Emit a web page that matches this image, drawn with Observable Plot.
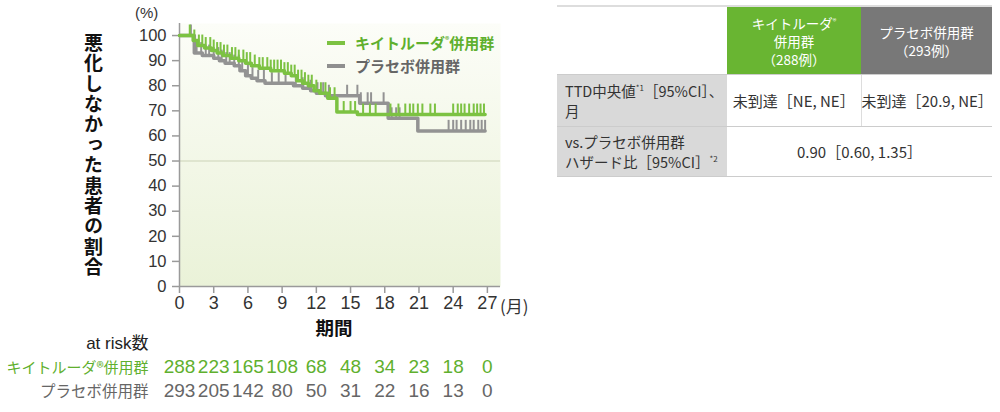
<!DOCTYPE html>
<html><head><meta charset="utf-8">
<script src="https://cdn.jsdelivr.net/npm/d3@7"></script>
<script src="https://cdn.jsdelivr.net/npm/@observablehq/plot@0.6"></script>
<style>
body{margin:0;width:1000px;height:412px;position:relative;background:#fff;font-family:"Liberation Sans","Noto Sans CJK JP",sans-serif;overflow:hidden;}
#chart{position:absolute;left:0;top:0;}
.abs{position:absolute;white-space:nowrap;}
#ytitle{left:84px;top:33px;writing-mode:vertical-rl;font-family:"Noto Sans CJK JP",sans-serif;font-weight:bold;font-size:19px;letter-spacing:1.4px;color:#111;line-height:1;}
#pct{left:135px;top:4px;font-size:15px;color:#333;}
#mon{left:500px;top:293px;font-size:17px;color:#333;font-family:"Noto Sans CJK JP",sans-serif;}
.leg{font-family:"Noto Sans CJK JP",sans-serif;font-size:15px;line-height:1;}
.sw{position:absolute;width:18px;height:4px;}
sup{font-size:0.55em;vertical-align:0.7em;line-height:0;}
#tbl{position:absolute;left:557px;top:5px;width:435px;border-collapse:collapse;font-family:"Noto Sans CJK JP",sans-serif;font-size:15px;color:#333;table-layout:fixed;}
#tbl td{padding:0;text-align:center;vertical-align:middle;}
#tbl tr.h td{height:67px;border-top:2px solid #ddd;border-bottom:1px solid #ccc;line-height:18px;font-size:13.5px;}
#tbl tr.r2 td{height:51px;border-bottom:1px solid #ccc;}
#tbl tr.r3 td{height:49px;border-bottom:1px solid #ccc;}
#tbl td.lab{background:#d9d9d9;text-align:left;padding-left:8px;line-height:20px;font-size:14.5px;}
#tbl td.g{background:#69b532;color:#fff;}
#tbl td.k{background:#787878;color:#fff;}
#tbl td.sep{border-right:1px solid #ddd;}
</style></head><body>
<div id="chart"></div>
<div id="ytitle" class="abs">悪化しなかった患者の割合</div>
<div id="pct" class="abs">(%)</div>
<div id="mon" class="abs">(月)</div>
<div class="sw" style="left:327px;top:41px;background:#7cc242"></div>
<div class="abs leg" style="left:355px;top:35px;color:#5fb02e;font-weight:bold">キイトルーダ<sup>®</sup>併用群</div>
<div class="sw" style="left:327px;top:64px;background:#8f8f8f"></div>
<div class="abs leg" style="left:355px;top:58px;color:#666;font-weight:bold">プラセボ併用群</div>
<table id="tbl">
<colgroup><col style="width:170px"><col style="width:134px"><col style="width:131px"></colgroup>
<tr class="h"><td style="background:#fff"></td><td class="g">キイトルーダ<sup>®</sup><br>併用群<br>（288例）</td><td class="k">プラセボ併用群<br>（293例）</td></tr>
<tr class="r2"><td class="lab">TTD中央値<sup>*1</sup>［95%CI］、<br>月</td><td class="sep">未到達［NE, NE］</td><td>未到達［20.9, NE］</td></tr>
<tr class="r3"><td class="lab">vs.プラセボ併用群<br>ハザード比［95%CI］<sup>*2</sup></td><td colspan="2">0.90［0.60, 1.35］</td></tr>
</table>
<script>
// ---- data ----
const xTicks = [0, 3, 6, 9, 12, 15, 18, 21, 24, 27];
const yTicks = [0, 10, 20, 30, 40, 50, 60, 70, 80, 90, 100];

// Keytruda arm (step-after KM)
const ktTimes = [0, 1.2, 1.6, 2.2, 2.8, 3.3, 3.8, 4.5, 5.2, 5.8, 6.3, 7.0, 8.0, 9.2, 9.8, 10.3, 10.8, 11.3, 11.8, 12.3, 13.0, 13.8, 15.6, 26.8];
const ktSurv  = [100, 98, 96, 95, 94, 93, 92, 91, 90, 89, 88, 87, 86, 85, 84, 82, 81, 80, 78, 77, 75, 69.5, 68.5, 68.5];
const ktCensor = [0.9, 1.3, 1.7, 2.0, 2.3, 2.7, 3.0, 3.3, 3.6, 3.9, 4.2, 4.6, 4.9, 5.2, 5.6, 5.9, 6.2, 6.6, 7.0, 7.3, 7.7, 8.0, 8.3, 8.6, 8.9, 9.2, 9.5, 9.8, 10.1, 10.4, 10.7, 11.0, 11.3, 11.6, 12.0, 12.4, 12.8, 13.2, 13.6, 14.4, 15.0, 15.4, 16.1, 16.7, 17.2, 18.5, 19.2, 19.8, 20.2, 20.5, 20.9, 21.3, 22.0, 22.4, 24.0, 24.4, 24.7, 25.0, 25.4, 25.8, 26.1, 26.4, 26.7];

// Placebo arm
const pbTimes = [0, 1.3, 2.0, 3.0, 3.5, 4.0, 4.8, 5.3, 5.8, 6.3, 6.8, 7.5, 10.0, 10.8, 11.5, 12.0, 12.8, 15.8, 18.3, 20.9, 26.8];
const pbSurv  = [100, 93, 92, 91, 90, 89, 88, 86, 84, 83, 82, 81, 80, 79, 78, 77, 76, 73, 67, 62, 62];
const pbCensor = [1.0, 1.5, 1.9, 2.3, 2.6, 3.0, 3.4, 3.7, 4.1, 4.4, 4.8, 5.2, 5.5, 6.0, 6.4, 6.9, 7.4, 8.1, 8.7, 9.3, 10.2, 10.8, 11.5, 12.1, 12.6, 13.1, 14.7, 15.6, 15.9, 16.5, 16.8, 17.9, 18.6, 19.0, 19.3, 23.6, 24.0, 24.3, 24.7, 25.1, 25.5, 25.8, 26.2, 26.5, 26.8];

// at risk
const riskTimes = [0, 3, 6, 9, 12, 15, 18, 21, 24, 27];
const ktRisk = [288, 223, 165, 108, 68, 48, 34, 23, 18, 0];
const pbRisk = [293, 205, 142, 80, 50, 31, 22, 16, 13, 0];

// ---- build ----
const GREEN = "#7cc242", GRAY = "#939393";
const stepData = (ts, ss) => ts.map((t, i) => ({t, s: ss[i]}));
const survAt = (ts, ss, t) => { let v = ss[0]; for (let i = 0; i < ts.length; i++) if (ts[i] <= t) v = ss[i]; return v; };
const censorData = (cs, ts, ss) => cs.map(t => ({t, s: survAt(ts, ss, t)}));
const kt = stepData(ktTimes, ktSurv), pb = stepData(pbTimes, pbSurv);
const ktC = censorData(ktCensor, ktTimes, ktSurv), pbC = censorData(pbCensor, pbTimes, pbSurv);

const plot = Plot.plot({
  width: 520, height: 412,
  marginLeft: 179, marginRight: 20, marginTop: 23, marginBottom: 126,
  x: {domain: [0, 28.15]},
  y: {domain: [0, 104.8]},
  style: {fontFamily: '"Liberation Sans","Noto Sans CJK JP",sans-serif', color: "#333", background: "transparent", overflow: "visible"},
  marks: [
    Plot.frame({fill: "url(#bgGrad)", stroke: null}),
    Plot.ruleY([50], {stroke: "#dfe5cf", strokeWidth: 2}),
    Plot.axisY(yTicks, {tickSize: 7, tickPadding: 6, fontSize: 16.5, label: null, stroke: "#9a9a9a", strokeWidth: 1.5, fill: "#333"}),
    Plot.axisX(xTicks, {tickSize: 7, tickPadding: 3, fontSize: 18, label: null, stroke: "#9a9a9a", strokeWidth: 1.5, fill: "#333"}),
    Plot.ruleX([0], {stroke: "#9a9a9a", strokeWidth: 1.5}),
    Plot.ruleY([0], {stroke: "#9a9a9a", strokeWidth: 1.5}),
    Plot.line(pb, {x: "t", y: "s", curve: "step-after", stroke: GRAY, strokeWidth: 3.5}),
    Plot.ruleX(pbC, {x: "t", y1: "s", y2: d => d.s + 4.2, stroke: GRAY, strokeWidth: 2}),
    Plot.line(kt, {x: "t", y: "s", curve: "step-after", stroke: GREEN, strokeWidth: 3.5}),
    Plot.ruleX(ktC, {x: "t", y1: "s", y2: d => d.s + 4.2, stroke: GREEN, strokeWidth: 2}),
    Plot.text(["期間"], {text: d => d, frameAnchor: "bottom", dx: -6, dy: 48, fontSize: 18.5, fontWeight: "bold", fill: "#111", fontFamily: '"Noto Sans CJK JP",sans-serif'}),
    Plot.text(["at risk数"], {text: d => d, frameAnchor: "bottom-left", dx: -31, dy: 62, textAnchor: "end", fontSize: 17, fill: "#222"}),
    Plot.text(["キイトルーダ®併用群"], {text: d => d, frameAnchor: "bottom-left", dx: -31, dy: 86, textAnchor: "end", fontSize: 15, fill: "#5fb02e", fontFamily: '"Noto Sans CJK JP",sans-serif'}),
    Plot.text(["プラセボ併用群"], {text: d => d, frameAnchor: "bottom-left", dx: -31, dy: 110, textAnchor: "end", fontSize: 15.5, fill: "#666", fontFamily: '"Noto Sans CJK JP",sans-serif'}),
    Plot.text(riskTimes, {x: d => d, text: (d, i) => String(ktRisk[i]), frameAnchor: "bottom", dy: 86, fontSize: 19, fill: "#5fb02e"}),
    Plot.text(riskTimes, {x: d => d, text: (d, i) => String(pbRisk[i]), frameAnchor: "bottom", dy: 110, fontSize: 19, fill: "#666"})
  ]
});
const defs = d3.select(plot).insert("defs", ":first-child");
const g = defs.append("linearGradient").attr("id", "bgGrad").attr("x1", 0).attr("y1", 0).attr("x2", 0).attr("y2", 1);
g.append("stop").attr("offset", "0%").attr("stop-color", "#fcfdf8");
g.append("stop").attr("offset", "100%").attr("stop-color", "#eaf2d8");
document.getElementById("chart").appendChild(plot);
</script>
</body></html>
